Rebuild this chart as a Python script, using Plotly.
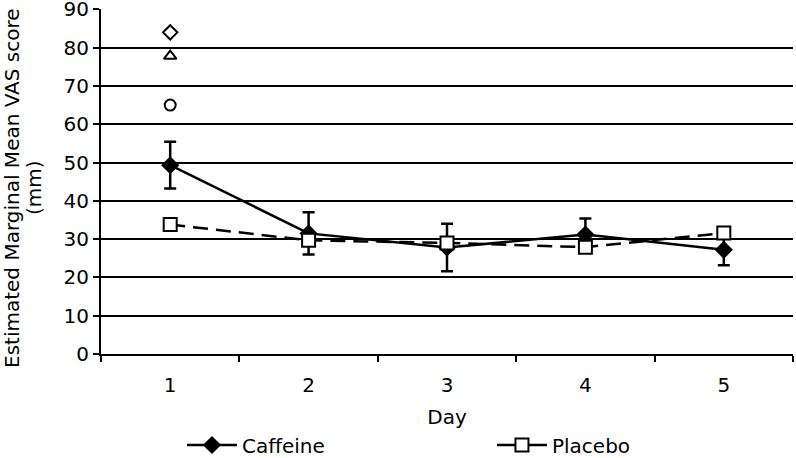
import plotly.graph_objects as go

days = [1, 2, 3, 4, 5]
caffeine = [49.3, 31.5, 27.8, 31.2, 27.2]
caffeine_err = [6.1, 5.5, 6.2, 4.2, 4.0]
placebo = [33.8, 29.7, 29.0, 27.9, 31.6]
outlier_day = [1]
outlier_diamond = [84]
outlier_triangle = [77.8]
outlier_circle = [65]
ytick_vals = [0, 10, 20, 30, 40, 50, 60, 70, 80, 90]
y_title_lines = ["Estimated Marginal Mean VAS score", "(mm)"]

font = "DejaVu Sans, Verdana, sans-serif"
W, H = 796, 458
ML, MR, MT, MB = 101, 3, 9, 104
PW, PH = W - ML - MR, H - MT - MB
BOTTOM = H - MB

fig = go.Figure()
fig.add_trace(go.Scatter(
    x=days, y=caffeine, name="Caffeine", mode="lines+markers",
    line=dict(color="black", width=2.5),
    marker=dict(symbol="diamond", size=14, color="black"),
    error_y=dict(type="data", array=caffeine_err, visible=True,
                 color="black", thickness=2.5, width=6),
))
fig.add_trace(go.Scatter(
    x=days, y=placebo, name="Placebo", mode="lines+markers",
    line=dict(color="black", width=2.5, dash="15px,8px"),
    marker=dict(symbol="square", size=13, color="white",
                line=dict(color="black", width=2)),
    showlegend=False, legendgroup="p",
))
# legend proxy for Placebo (solid line as in the original legend)
fig.add_trace(go.Scatter(
    x=[None], y=[None], name="Placebo", mode="lines+markers",
    line=dict(color="black", width=2.5),
    marker=dict(symbol="square", size=13, color="white",
                line=dict(color="black", width=2)),
    legendgroup="p",
))
for sym, vals in [("diamond-open", outlier_diamond),
                  ("triangle-up-open", outlier_triangle),
                  ("circle-open", outlier_circle)]:
    fig.add_trace(go.Scatter(
        x=outlier_day, y=vals, mode="markers", showlegend=False,
        marker=dict(symbol=sym, size=11, color="black",
                    line=dict(color="black", width=2)),
    ))

# y-axis title as two rotated lines (tighter line spacing than axis title)
for txt, xpx in zip(y_title_lines, [12, 34]):
    fig.add_annotation(
        text=txt, xref="paper", yref="paper",
        x=(xpx - ML) / PW, y=(BOTTOM - 188) / PH,
        xanchor="center", yanchor="middle", textangle=-90,
        showarrow=False, font=dict(size=20, family=font, color="black"),
    )

fig.update_layout(
    width=W, height=H,
    margin=dict(l=ML, r=MR, t=MT, b=MB, autoexpand=False),
    paper_bgcolor="white", plot_bgcolor="white",
    font=dict(family=font, size=20, color="black"),
    showlegend=True,
    legend=dict(orientation="h", x=0.117, xanchor="left",
                y=-(445 - BOTTOM) / PH,
                yanchor="middle", entrywidth=245, entrywidthmode="pixels",
                font=dict(size=20), itemwidth=50),
    xaxis=dict(
        range=[0.5, 5.5], tickvals=days, ticktext=[str(d) for d in days],
        ticks="", showgrid=False, showline=True, linecolor="black",
        linewidth=2, zeroline=False, automargin=False,
        ticklabelstandoff=12,
        minor=dict(tick0=0.5, dtick=1, ticks="outside", ticklen=6,
                   tickcolor="black", tickwidth=2, showgrid=False),
        title=dict(text="Day", standoff=14, font=dict(size=20)),
        tickfont=dict(size=20),
    ),
    yaxis=dict(
        range=[0, 90.1], tickvals=ytick_vals, ticks="outside", ticklen=6,
        tickcolor="black", tickwidth=2, ticklabeloverflow="allow",
        showgrid=True, gridcolor="black", gridwidth=2, automargin=False,
        showline=True, linecolor="black", linewidth=2, zeroline=False,
        tickfont=dict(size=20),
    ),
)

fig.write_html("out.html", config={"displayModeBar": False},
               post_script="document.body.style.margin='0';")
